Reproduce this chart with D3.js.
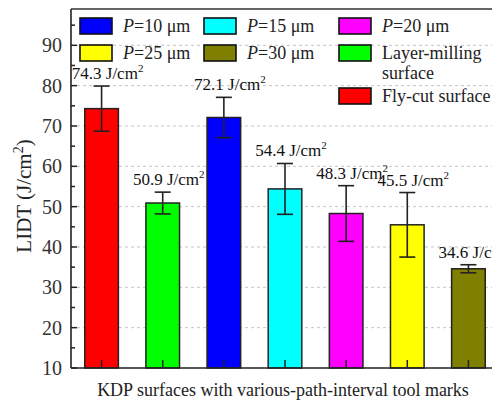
<!DOCTYPE html>
<html>
<head>
<meta charset="utf-8">
<script src="https://cdn.jsdelivr.net/npm/d3@7"></script>
<style>
  body { margin: 0; background: #fff; }
  svg { display: block; font-family: "Liberation Serif", "Times New Roman", serif; }
</style>
</head>
<body>
<div class="root"></div>
<script>
// data
var categories = ["Fly-cut", "Layer-milling", "P10", "P15", "P20", "P25", "P30"];
var lidt       = [74.3, 50.9, 72.1, 54.4, 48.3, 45.5, 34.6];
var errors     = [5.6, 2.7, 5.0, 6.3, 6.9, 8.0, 1.0];
var barColors  = ["#ff0000", "#00ff00", "#0000ff", "#00ffff", "#ff00ff", "#ffff00", "#808000"];
var yTicks     = [10, 20, 30, 40, 50, 60, 70, 80, 90];
var yMinor     = [15, 25, 35, 45, 55, 65, 75, 85, 95];

// legend entries
var legendItems = [
  {p: "10", lines: [], color: "#0000ff"},
  {p: "15", lines: [], color: "#00ffff"},
  {p: "20", lines: [], color: "#ff00ff"},
  {p: "25", lines: [], color: "#ffff00"},
  {p: "30", lines: [], color: "#808000"},
  {p: null, lines: ["Layer-milling", "surface"], color: "#00ff00"},
  {p: null, lines: ["Fly-cut surface"], color: "#ff0000"}
];

var width = 492, height = 401;
var plotLeft = 71, plotRight = 499, plotTop = 9, plotBottom = 368;

var svg = d3.select('.root').append('svg')
  .attr("width", width)
  .attr("height", height);

var x = d3.scaleBand()
  .domain(categories)
  .range([plotLeft, plotRight])
  .paddingInner(0.45)
  .paddingOuter(0.225);

var y = d3.scaleLinear()
  .domain([10, 99])
  .range([plotBottom, plotTop]);

// gridlines
svg.append('g')
  .selectAll('line')
  .data(yTicks.slice(1))
  .enter()
  .append('line')
  .attr("x1", plotLeft).attr("x2", plotRight)
  .attr("y1", function (d) { return y(d); })
  .attr("y2", function (d) { return y(d); })
  .attr("stroke", "#c4c4c4")
  .attr("stroke-width", 1)
  .attr("stroke-dasharray", "3,3");

// bars
svg.append('g')
  .selectAll('rect')
  .data(lidt)
  .enter()
  .append('rect')
  .attr("x", function (d, i) { return x(categories[i]); })
  .attr("y", function (d) { return y(d); })
  .attr("width", x.bandwidth())
  .attr("height", function (d) { return y(10) - y(d); })
  .attr("fill", function (d, i) { return barColors[i]; })
  .attr("stroke", "#222")
  .attr("stroke-width", 1.5);

// error bars
var eb = svg.append('g').attr("stroke", "#222").attr("stroke-width", 1.6);
lidt.forEach(function (v, i) {
  var cx = x(categories[i]) + x.bandwidth() / 2;
  eb.append('line').attr("x1", cx).attr("x2", cx)
    .attr("y1", y(v + errors[i])).attr("y2", y(v - errors[i]));
  [v + errors[i], v - errors[i]].forEach(function (e) {
    eb.append('line').attr("x1", cx - 8).attr("x2", cx + 8)
      .attr("y1", y(e)).attr("y2", y(e));
  });
});

// value labels
var labels = svg.append('g')
  .selectAll('text')
  .data(lidt)
  .enter()
  .append('text')
  .attr("x", function (d, i) { return x(categories[i]) + x.bandwidth() / 2 + 6; })
  .attr("y", function (d, i) { return y(d + errors[i]) - 7; })
  .attr("text-anchor", "middle")
  .attr("font-size", 17)
  .attr("fill", "#111");
labels.append('tspan').text(function (d) { return d.toFixed(1) + " J/cm"; });
labels.append('tspan').attr("dy", -7).attr("font-size", 11).text("2");

// axes
svg.append('line')
  .attr("x1", plotLeft).attr("x2", plotRight).attr("y1", plotTop).attr("y2", plotTop)
  .attr("stroke", "#666").attr("stroke-width", 2);
svg.append('line')
  .attr("x1", plotLeft).attr("x2", plotRight).attr("y1", plotBottom).attr("y2", plotBottom)
  .attr("stroke", "#222").attr("stroke-width", 1.6);
svg.append('line')
  .attr("x1", plotLeft).attr("x2", plotLeft).attr("y1", plotTop).attr("y2", plotBottom)
  .attr("stroke", "#222").attr("stroke-width", 1.6);

var yAxis = svg.append('g');
yAxis.selectAll('line.major')
  .data(yTicks).enter().append('line')
  .attr("x1", plotLeft).attr("x2", plotLeft + 6)
  .attr("y1", function (d) { return y(d); }).attr("y2", function (d) { return y(d); })
  .attr("stroke", "#222").attr("stroke-width", 1.5);
yAxis.selectAll('line.minor')
  .data(yMinor).enter().append('line')
  .attr("x1", plotLeft).attr("x2", plotLeft + 4)
  .attr("y1", function (d) { return y(d); }).attr("y2", function (d) { return y(d); })
  .attr("stroke", "#222").attr("stroke-width", 1.5);
yAxis.selectAll('text')
  .data(yTicks).enter().append('text')
  .attr("x", plotLeft - 9)
  .attr("y", function (d) { return y(d); })
  .attr("dy", "0.35em")
  .attr("text-anchor", "end")
  .attr("font-size", 20)
  .attr("fill", "#333")
  .text(function (d) { return d; });

svg.append('g')
  .selectAll('line')
  .data(categories).enter().append('line')
  .attr("x1", function (d) { return x(d) + x.bandwidth() / 2; })
  .attr("x2", function (d) { return x(d) + x.bandwidth() / 2; })
  .attr("y1", plotBottom).attr("y2", plotBottom - 8)
  .attr("stroke", "#222").attr("stroke-width", 1.5);

// axis titles
var yt = svg.append('text')
  .attr("transform", "translate(31,196) rotate(-90)")
  .attr("text-anchor", "middle")
  .attr("font-size", 21)
  .attr("fill", "#222");
yt.append('tspan').text("LIDT (J/cm");
yt.append('tspan').attr("dy", -8).attr("font-size", 14).text("2");
yt.append('tspan').attr("dy", 8).text(")");

svg.append('text')
  .attr("x", (plotLeft + plotRight) / 2 - 2)
  .attr("y", 396)
  .attr("text-anchor", "middle")
  .attr("font-size", 18)
  .attr("fill", "#222")
  .text("KDP surfaces with various-path-interval tool marks");

// legend
var colX = [80, 204, 339];
var rowY = [18, 45, 88];
legendItems.forEach(function (d, i) {
  var col = i < 6 ? i % 3 : 2;
  var row = i < 6 ? Math.floor(i / 3) : 2;
  var g = svg.append('g').attr("transform", "translate(" + colX[col] + "," + rowY[row] + ")");
  g.append('rect')
    .attr("width", 32).attr("height", 16)
    .attr("fill", d.color)
    .attr("stroke", "#111").attr("stroke-width", 1.6);
  var t = g.append('text')
    .attr("x", 43).attr("y", 14)
    .attr("font-size", 18)
    .attr("fill", "#222");
  if (d.p) {
    t.append('tspan').attr("font-style", "italic").text("P");
    t.append('tspan').text("=" + d.p + " \u03bcm");
  } else {
    d.lines.forEach(function (line, k) {
      t.append('tspan').attr("x", 43).attr("dy", k ? 20 : 0).text(line);
    });
  }
});
</script>
</body>
</html>
